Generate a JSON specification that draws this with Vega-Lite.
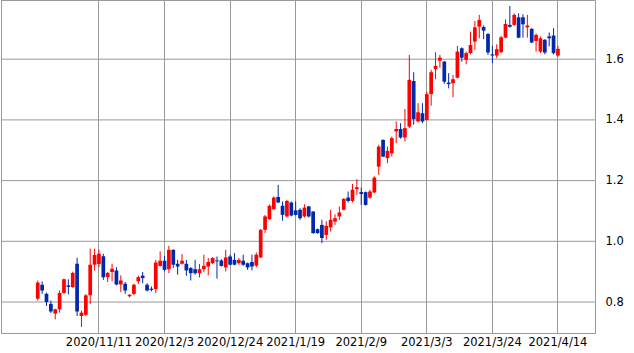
{
  "$schema": "https://vega.github.io/schema/vega-lite/v6.json",
  "width": 594,
  "height": 333,
  "padding": 0,
  "background": "white",
  "config": {
    "view": {"stroke": "#999999", "strokeWidth": 1},
    "axis": {"labelFont": "DejaVu Sans", "labelColor": "#000000", "labelFontSize": 11.5, "gridColor": "#999999", "gridOpacity": 1, "gridWidth": 1, "domain": false, "ticks": false, "title": null}
  },
  "datasets": {
    "grid": [{"g": 0.8}, {"g": 1.0}, {"g": 1.2}, {"g": 1.4}, {"g": 1.6}],
    "ohlc": [
    {"d":"2020/10/22","o":0.811,"h":0.871,"l":0.805,"c":0.864},
    {"d":"2020/10/23","o":0.857,"h":0.868,"l":0.827,"c":0.838},
    {"d":"2020/10/26","o":0.827,"h":0.831,"l":0.787,"c":0.800},
    {"d":"2020/10/27","o":0.794,"h":0.805,"l":0.764,"c":0.769},
    {"d":"2020/10/28","o":0.762,"h":0.778,"l":0.743,"c":0.776},
    {"d":"2020/10/29","o":0.776,"h":0.838,"l":0.765,"c":0.830},
    {"d":"2020/10/30","o":0.830,"h":0.877,"l":0.827,"c":0.875},
    {"d":"2020/11/2","o":0.855,"h":0.875,"l":0.825,"c":0.850},
    {"d":"2020/11/3","o":0.849,"h":0.900,"l":0.847,"c":0.896},
    {"d":"2020/11/4","o":0.926,"h":0.946,"l":0.754,"c":0.769},
    {"d":"2020/11/5","o":0.754,"h":0.772,"l":0.718,"c":0.765},
    {"d":"2020/11/6","o":0.758,"h":0.826,"l":0.754,"c":0.822},
    {"d":"2020/11/9","o":0.822,"h":0.976,"l":0.794,"c":0.923},
    {"d":"2020/11/10","o":0.923,"h":0.976,"l":0.904,"c":0.955},
    {"d":"2020/11/11","o":0.925,"h":0.972,"l":0.915,"c":0.959},
    {"d":"2020/11/12","o":0.951,"h":0.959,"l":0.873,"c":0.882},
    {"d":"2020/11/13","o":0.882,"h":0.899,"l":0.866,"c":0.896},
    {"d":"2020/11/16","o":0.899,"h":0.926,"l":0.868,"c":0.910},
    {"d":"2020/11/17","o":0.904,"h":0.915,"l":0.855,"c":0.858},
    {"d":"2020/11/18","o":0.858,"h":0.888,"l":0.833,"c":0.871},
    {"d":"2020/11/19","o":0.860,"h":0.866,"l":0.827,"c":0.838},
    {"d":"2020/11/20","o":0.819,"h":0.826,"l":0.815,"c":0.824},
    {"d":"2020/11/23","o":0.827,"h":0.860,"l":0.822,"c":0.857},
    {"d":"2020/11/24","o":0.868,"h":0.887,"l":0.859,"c":0.882},
    {"d":"2020/11/25","o":0.887,"h":0.899,"l":0.862,"c":0.879},
    {"d":"2020/11/27","o":0.857,"h":0.862,"l":0.835,"c":0.838},
    {"d":"2020/11/30","o":0.844,"h":0.851,"l":0.835,"c":0.840},
    {"d":"2020/12/1","o":0.843,"h":0.939,"l":0.829,"c":0.930},
    {"d":"2020/12/2","o":0.919,"h":0.967,"l":0.917,"c":0.936},
    {"d":"2020/12/3","o":0.936,"h":0.952,"l":0.901,"c":0.906},
    {"d":"2020/12/4","o":0.908,"h":0.985,"l":0.895,"c":0.972},
    {"d":"2020/12/7","o":0.972,"h":0.974,"l":0.912,"c":0.923},
    {"d":"2020/12/8","o":0.926,"h":0.939,"l":0.890,"c":0.917},
    {"d":"2020/12/9","o":0.926,"h":0.958,"l":0.923,"c":0.936},
    {"d":"2020/12/10","o":0.926,"h":0.939,"l":0.886,"c":0.904},
    {"d":"2020/12/11","o":0.912,"h":0.915,"l":0.871,"c":0.895},
    {"d":"2020/12/14","o":0.908,"h":0.939,"l":0.890,"c":0.895},
    {"d":"2020/12/15","o":0.895,"h":0.925,"l":0.881,"c":0.908},
    {"d":"2020/12/16","o":0.908,"h":0.956,"l":0.898,"c":0.919},
    {"d":"2020/12/17","o":0.917,"h":0.945,"l":0.888,"c":0.932},
    {"d":"2020/12/18","o":0.928,"h":0.948,"l":0.925,"c":0.945},
    {"d":"2020/12/21","o":0.937,"h":0.950,"l":0.877,"c":0.934},
    {"d":"2020/12/22","o":0.937,"h":0.941,"l":0.917,"c":0.919},
    {"d":"2020/12/23","o":0.914,"h":0.972,"l":0.901,"c":0.947},
    {"d":"2020/12/24","o":0.950,"h":0.956,"l":0.921,"c":0.923},
    {"d":"2020/12/28","o":0.939,"h":0.961,"l":0.921,"c":0.923},
    {"d":"2020/12/29","o":0.928,"h":0.945,"l":0.923,"c":0.939},
    {"d":"2020/12/30","o":0.936,"h":0.956,"l":0.919,"c":0.923},
    {"d":"2020/12/31","o":0.928,"h":0.930,"l":0.906,"c":0.914},
    {"d":"2021/1/4","o":0.932,"h":0.956,"l":0.904,"c":0.917},
    {"d":"2021/1/5","o":0.920,"h":0.963,"l":0.915,"c":0.956},
    {"d":"2021/1/6","o":0.947,"h":1.040,"l":0.945,"c":1.038},
    {"d":"2021/1/7","o":1.038,"h":1.087,"l":1.027,"c":1.082},
    {"d":"2021/1/8","o":1.073,"h":1.122,"l":1.071,"c":1.117},
    {"d":"2021/1/11","o":1.106,"h":1.148,"l":1.104,"c":1.144},
    {"d":"2021/1/12","o":1.146,"h":1.186,"l":1.126,"c":1.128},
    {"d":"2021/1/13","o":1.117,"h":1.131,"l":1.068,"c":1.087},
    {"d":"2021/1/14","o":1.082,"h":1.137,"l":1.079,"c":1.133},
    {"d":"2021/1/15","o":1.128,"h":1.131,"l":1.082,"c":1.085},
    {"d":"2021/1/19","o":1.102,"h":1.131,"l":1.085,"c":1.087},
    {"d":"2021/1/20","o":1.104,"h":1.109,"l":1.071,"c":1.076},
    {"d":"2021/1/21","o":1.082,"h":1.122,"l":1.078,"c":1.111},
    {"d":"2021/1/22","o":1.115,"h":1.117,"l":1.078,"c":1.082},
    {"d":"2021/1/25","o":1.098,"h":1.100,"l":1.025,"c":1.027},
    {"d":"2021/1/26","o":1.040,"h":1.042,"l":1.025,"c":1.027},
    {"d":"2021/1/27","o":1.054,"h":1.071,"l":0.994,"c":1.011},
    {"d":"2021/1/28","o":1.021,"h":1.066,"l":1.005,"c":1.051},
    {"d":"2021/1/29","o":1.046,"h":1.104,"l":1.032,"c":1.071},
    {"d":"2021/2/1","o":1.065,"h":1.089,"l":1.054,"c":1.076},
    {"d":"2021/2/2","o":1.082,"h":1.115,"l":1.071,"c":1.095},
    {"d":"2021/2/3","o":1.104,"h":1.142,"l":1.102,"c":1.140},
    {"d":"2021/2/4","o":1.144,"h":1.164,"l":1.128,"c":1.133},
    {"d":"2021/2/5","o":1.133,"h":1.189,"l":1.128,"c":1.170},
    {"d":"2021/2/8","o":1.172,"h":1.205,"l":1.153,"c":1.178},
    {"d":"2021/2/9","o":1.162,"h":1.177,"l":1.120,"c":1.156},
    {"d":"2021/2/10","o":1.162,"h":1.164,"l":1.118,"c":1.120},
    {"d":"2021/2/11","o":1.144,"h":1.170,"l":1.140,"c":1.164},
    {"d":"2021/2/12","o":1.161,"h":1.214,"l":1.159,"c":1.210},
    {"d":"2021/2/16","o":1.246,"h":1.318,"l":1.219,"c":1.312},
    {"d":"2021/2/17","o":1.334,"h":1.336,"l":1.277,"c":1.279},
    {"d":"2021/2/18","o":1.274,"h":1.312,"l":1.257,"c":1.298},
    {"d":"2021/2/19","o":1.290,"h":1.345,"l":1.279,"c":1.340},
    {"d":"2021/2/22","o":1.362,"h":1.395,"l":1.323,"c":1.370},
    {"d":"2021/2/23","o":1.370,"h":1.389,"l":1.338,"c":1.342},
    {"d":"2021/2/24","o":1.342,"h":1.436,"l":1.329,"c":1.373},
    {"d":"2021/2/25","o":1.378,"h":1.614,"l":1.373,"c":1.532},
    {"d":"2021/2/26","o":1.528,"h":1.557,"l":1.384,"c":1.403},
    {"d":"2021/3/1","o":1.395,"h":1.455,"l":1.392,"c":1.425},
    {"d":"2021/3/2","o":1.422,"h":1.455,"l":1.389,"c":1.395},
    {"d":"2021/3/3","o":1.400,"h":1.493,"l":1.398,"c":1.485},
    {"d":"2021/3/4","o":1.485,"h":1.565,"l":1.447,"c":1.557},
    {"d":"2021/3/5","o":1.567,"h":1.623,"l":1.534,"c":1.578},
    {"d":"2021/3/8","o":1.595,"h":1.614,"l":1.572,"c":1.605},
    {"d":"2021/3/9","o":1.592,"h":1.594,"l":1.519,"c":1.526},
    {"d":"2021/3/10","o":1.523,"h":1.554,"l":1.504,"c":1.518},
    {"d":"2021/3/11","o":1.521,"h":1.548,"l":1.475,"c":1.534},
    {"d":"2021/3/12","o":1.539,"h":1.644,"l":1.537,"c":1.625},
    {"d":"2021/3/15","o":1.636,"h":1.639,"l":1.592,"c":1.605},
    {"d":"2021/3/16","o":1.598,"h":1.625,"l":1.583,"c":1.620},
    {"d":"2021/3/17","o":1.620,"h":1.691,"l":1.616,"c":1.647},
    {"d":"2021/3/18","o":1.658,"h":1.726,"l":1.631,"c":1.705},
    {"d":"2021/3/19","o":1.707,"h":1.746,"l":1.669,"c":1.729},
    {"d":"2021/3/22","o":1.706,"h":1.711,"l":1.666,"c":1.694},
    {"d":"2021/3/23","o":1.683,"h":1.686,"l":1.614,"c":1.622},
    {"d":"2021/3/24","o":1.616,"h":1.644,"l":1.587,"c":1.612},
    {"d":"2021/3/25","o":1.612,"h":1.649,"l":1.603,"c":1.633},
    {"d":"2021/3/26","o":1.623,"h":1.677,"l":1.620,"c":1.672},
    {"d":"2021/3/29","o":1.671,"h":1.731,"l":1.669,"c":1.716},
    {"d":"2021/3/30","o":1.713,"h":1.775,"l":1.704,"c":1.707},
    {"d":"2021/3/31","o":1.713,"h":1.751,"l":1.710,"c":1.746},
    {"d":"2021/4/1","o":1.738,"h":1.751,"l":1.669,"c":1.671},
    {"d":"2021/4/2","o":1.738,"h":1.748,"l":1.671,"c":1.715},
    {"d":"2021/4/5","o":1.705,"h":1.746,"l":1.671,"c":1.711},
    {"d":"2021/4/6","o":1.700,"h":1.702,"l":1.653,"c":1.655},
    {"d":"2021/4/7","o":1.660,"h":1.685,"l":1.625,"c":1.680},
    {"d":"2021/4/8","o":1.625,"h":1.675,"l":1.620,"c":1.669},
    {"d":"2021/4/9","o":1.664,"h":1.666,"l":1.616,"c":1.622},
    {"d":"2021/4/12","o":1.675,"h":1.688,"l":1.642,"c":1.669},
    {"d":"2021/4/13","o":1.678,"h":1.702,"l":1.616,"c":1.620},
    {"d":"2021/4/14","o":1.612,"h":1.644,"l":1.609,"c":1.634}
  ]},
  "layer": [
    {
      "data": {"name": "grid"},
      "mark": {"type": "rule", "color": "#999999", "strokeWidth": 1},
      "encoding": {
        "y": {
          "field": "g", "type": "quantitative",
          "scale": {"domain": [0.698, 1.795], "nice": false, "zero": false},
          "axis": {"orient": "right", "values": [0.8, 1.0, 1.2, 1.4, 1.6], "format": ".1f", "grid": false, "labelPadding": 10}
        }
      }
    },
    {
      "data": {"name": "ohlc"},
      "encoding": {
        "x": {
          "field": "d", "type": "ordinal", "sort": null,
          "scale": {"paddingInner": 0.15, "paddingOuter": 0, "range": [34.9, 558.8]},
          "axis": {
            "values": ["2020/11/11","2020/12/3","2020/12/24","2021/1/19","2021/2/9","2021/3/3","2021/3/24","2021/4/14"],
            "labelAngle": 0, "grid": true, "labelPadding": 3, "bandPosition": 0.5, "labelOverlap": false
          }
        },
        "color": {"condition": {"test": "datum.c > datum.o", "value": "#ff0000"}, "value": "#0028aa"}
      },
      "layer": [
        {
          "mark": {"type": "rule", "strokeWidth": 1},
          "encoding": {
            "y": {"field": "l", "type": "quantitative"},
            "y2": {"field": "h"}
          }
        },
        {
          "mark": {"type": "bar"},
          "encoding": {
            "y": {"field": "o", "type": "quantitative"},
            "y2": {"field": "c"}
          }
        }
      ]
    }
  ]
}
